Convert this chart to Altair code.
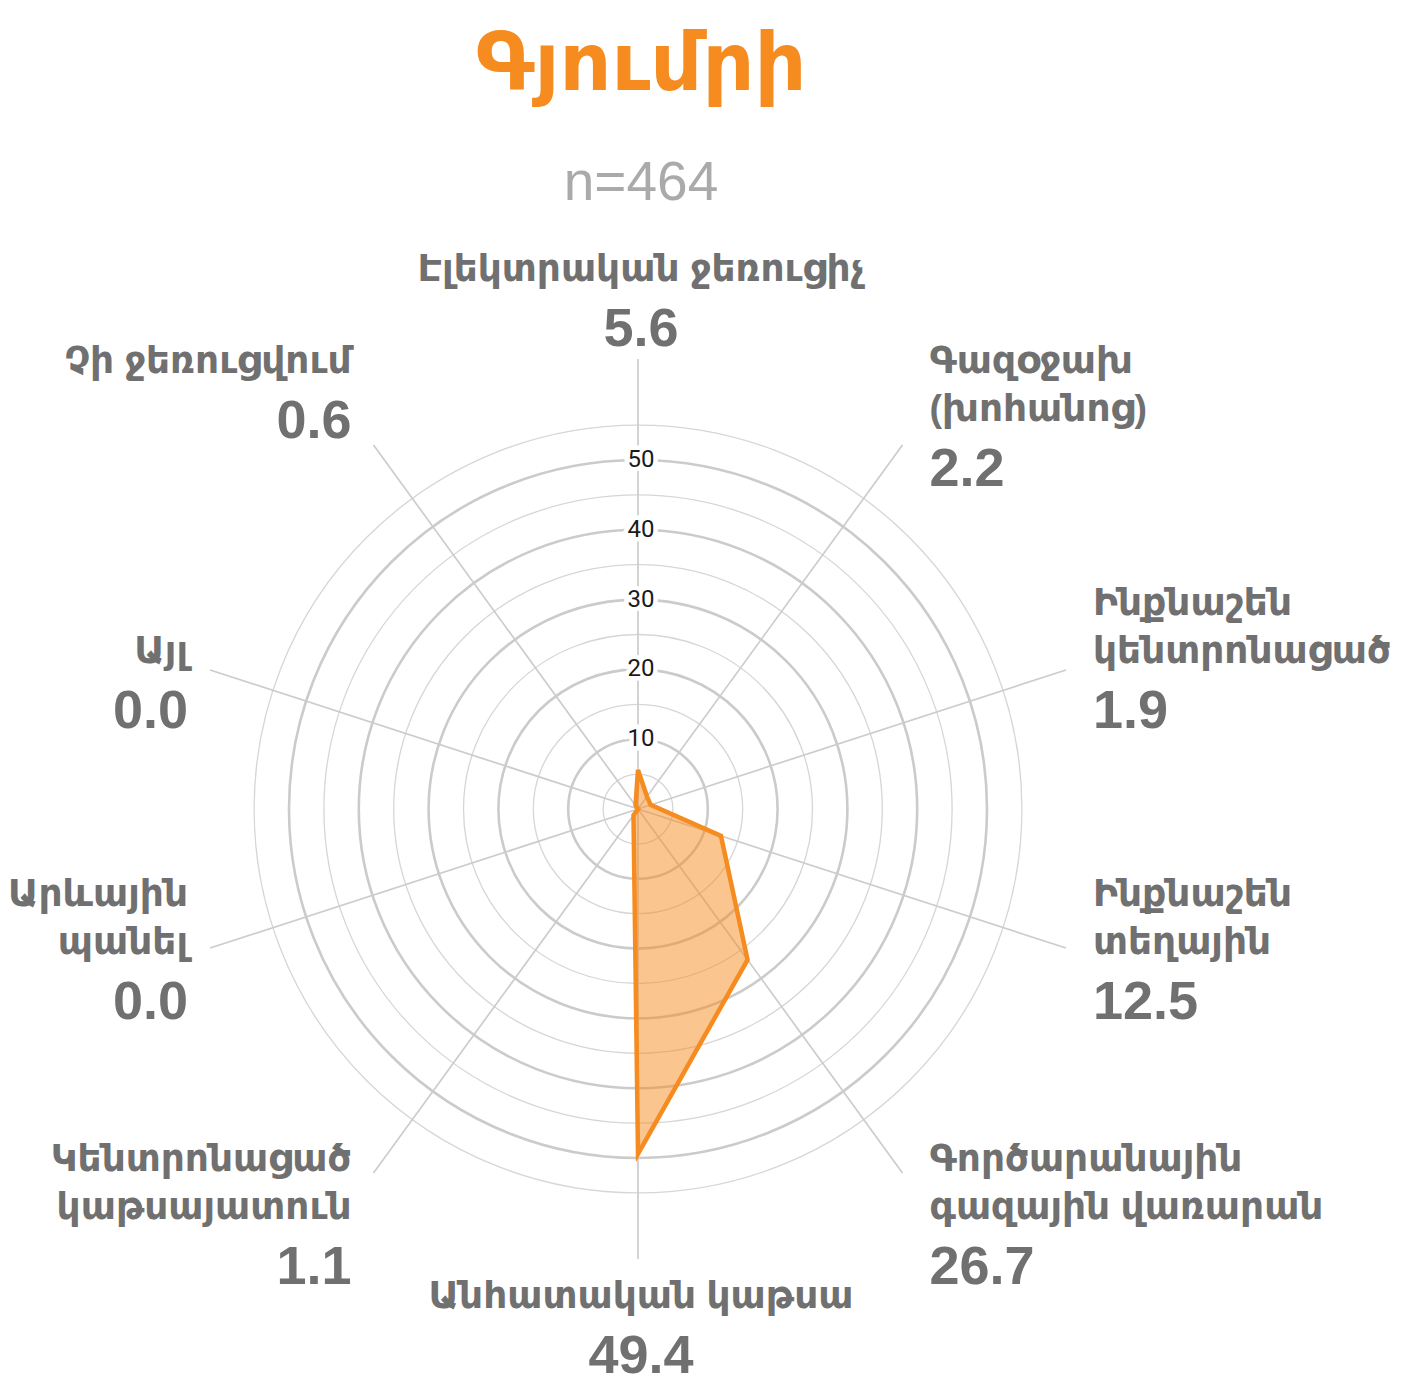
import math
import altair as alt
import pandas as pd

# ---------------- data ----------------
title_text = "Գյումրի"
subtitle_text = "n=464"

category_lines = [
    ["Էլեկտրական ջեռուցիչ"],
    ["Գազօջախ", "(խոհանոց)"],
    ["Ինքնաշեն", "կենտրոնացած"],
    ["Ինքնաշեն", "տեղային"],
    ["Գործարանային", "գազային վառարան"],
    ["Անհատական կաթսա"],
    ["Կենտրոնացած", "կաթսայատուն"],
    ["Արևային", "պանել"],
    ["Այլ"],
    ["Չի ջեռուցվում"],
]
values = [5.6, 2.2, 1.9, 12.5, 26.7, 49.4, 1.1, 0.0, 0.0, 0.6]
ring_values = [5, 10, 15, 20, 25, 30, 35, 40, 45, 50, 55]
tick_labels = [10, 20, 30, 40, 50]

# ---------------- layout ----------------
W, H = 1387, 1376
CX, CY = 630, 801          # centre of the radar in view pixels
K = 6.98                   # pixels per value unit
SPOKE = 450 / K            # spoke length in value units
ORANGE = "#F68B1F"
GREY_TXT = "#707070"
GRID = "#cccccc"
FONT = "Liberation Sans, DejaVu Sans, sans-serif"

n = len(values)
angles = [2 * math.pi * i / n for i in range(n)]

xs = alt.Scale(domain=[-CX / K, (W - CX) / K], range=[0, W], nice=False, zero=False)
ys = alt.Scale(domain=[-(H - CY) / K, CY / K], range=[H, 0], nice=False, zero=False)
X = lambda f: alt.X(f, type="quantitative", scale=xs, axis=None)
Y = lambda f: alt.Y(f, type="quantitative", scale=ys, axis=None)

# polygon
poly_df = pd.DataFrame({"idx": list(range(n)), "value": values, "angle": angles})
base_poly = alt.Chart(poly_df).transform_calculate(
    px="datum.value * sin(datum.angle)", py="datum.value * cos(datum.angle)"
)
polygon = base_poly.mark_line(
    interpolate="linear-closed", fill=ORANGE, fillOpacity=0.5,
    stroke=ORANGE, strokeWidth=4.5, strokeJoin="miter"
).encode(x=X("px"), y=Y("py"), order=alt.Order("idx:Q"))

# spokes
spokes = alt.Chart(pd.DataFrame({"angle": angles})).transform_calculate(
    x0="0", y0="0",
    x1=f"{SPOKE} * sin(datum.angle)", y1=f"{SPOKE} * cos(datum.angle)"
).mark_rule(color=GRID, strokeWidth=1.7).encode(
    x=X("x0"), y=Y("y0"), x2="x1:Q", y2="y1:Q"
)

# rings
ring_df = pd.DataFrame({"r": ring_values})
ring_df["major"] = ring_df["r"] % 10 == 0
rscale = alt.Scale(type="linear", domain=[0, 55], range=[0, 55 * K], zero=True, nice=False)

def ring_layer(major, width, color):
    return alt.Chart(ring_df).transform_filter(
        f"datum.major == {'true' if major else 'false'}"
    ).transform_calculate(cx="0", cy="0").mark_arc(
        theta=0, theta2=2 * math.pi, fillOpacity=0, stroke=color, strokeWidth=width
    ).encode(x=X("cx"), y=Y("cy"),
             radius=alt.Radius("r:Q", scale=rscale, stack=False))

rings_minor = ring_layer(False, 1.3, "#d6d6d6")
rings_major = ring_layer(True, 2.6, "#cbcbcb")

# radial tick labels
tick_df = pd.DataFrame({"v": tick_labels, "t": [str(t) for t in tick_labels]})
tick_base = alt.Chart(tick_df).transform_calculate(tx="0")
tick_halo = tick_base.mark_text(
    font="Roboto", fontSize=24, stroke="white", strokeWidth=9, color="white", dx=3
).encode(x=X("tx"), y=Y("v"), text="t:N")
tick_text = tick_base.mark_text(font="Roboto", fontSize=24, color="#1a1a1a", dx=3).encode(
    x=X("tx"), y=Y("v"), text="t:N"
)

# category labels (layout computed from the angle of each spoke)
NAME_STEP, VALUE_STEP, GAP_L, GAP_R = 48, 60, 27, 22
rows = []
for i, (lines, v, a) in enumerate(zip(category_lines, values, angles)):
    s, c = math.sin(a), math.cos(a)
    ex, ey = 450 * s, -450 * c               # spoke end, screen offsets
    span = NAME_STEP * (len(lines) - 1) + VALUE_STEP
    if abs(s) < 1e-6:
        align, lx = "center", ex + 3
        fc = ey - 29 - span if c > 0 else ey + 38
    else:
        align = "left" if s > 0 else "right"
        lx = ex + GAP_L if s > 0 else ex - GAP_R
        if c > 0.5:
            fc = ey - 83
        elif c > 0:
            fc = ey + 42 - span
        elif c > -0.5:
            fc = ey - span / 2 + 1
        else:
            fc = ey - 13
    for j, ln in enumerate(lines):
        rows.append({"text": ln, "kind": "name", "align": align,
                     "lx": lx / K, "ly": -(fc + NAME_STEP * j) / K})
    rows.append({"text": f"{v:.1f}", "kind": "value", "align": align,
                 "lx": lx / K, "ly": -(fc + span) / K})
label_df = pd.DataFrame(rows)

label_layers = []
for align in ["left", "center", "right"]:
    for kind, size in [("name", 37.5), ("value", 54)]:
        label_layers.append(
            alt.Chart(label_df).transform_filter(
                f"datum.align == '{align}' && datum.kind == '{kind}'"
            ).mark_text(
                align=align, baseline="middle", font=FONT, fontWeight="bold",
                fontSize=size, color=GREY_TXT
            ).encode(x=X("lx"), y=Y("ly"), text="text:N")
        )

# title & subtitle
title = alt.Chart(pd.DataFrame({"t": [title_text]})).mark_text(
    font=FONT, fontSize=81, fontWeight="bold", color=ORANGE, baseline="alphabetic"
).encode(x=alt.value(CX + 3), y=alt.value(82), text="t:N")
subtitle = alt.Chart(pd.DataFrame({"t": [subtitle_text]})).mark_text(
    font=FONT, fontSize=55, color="#aaaaaa", baseline="alphabetic"
).encode(x=alt.value(CX + 3), y=alt.value(192), text="t:N")

chart = alt.layer(
    rings_minor, rings_major, spokes, polygon, tick_halo, tick_text,
    *label_layers, title, subtitle
).properties(
    width=W, height=H, autosize=alt.AutoSizeParams(type="none"), padding=0
).configure_view(stroke=None)

chart.save("out.html", embed_options={"renderer": "svg", "actions": False})
